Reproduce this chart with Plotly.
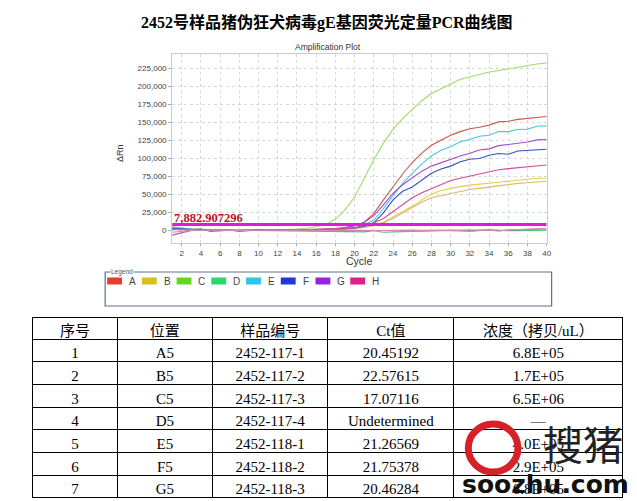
import plotly.graph_objects as go

W, H = 637, 501

# ---------------- data ----------------
cycles = list(range(1, 41))

series_names = ["A", "B", "B2", "C", "D", "E", "F", "G", "H", "NTC1", "NTC2"]
A = [3000,1500,500,0,-500,-200,-600,-300,0,-200,
     100,-100,-300,0,200,500,1000,2000,3500,6000,
     11000,23000,42000,60000,78000,94000,107000,118000,125000,132000,
     137000,141000,143000,146000,150500,151500,154000,155000,156000,158000]
B = [5000,3000,1200,300,-300,-800,-400,-200,-600,-300,
     0,-400,-200,-500,-300,0,300,800,1500,2500,
     4000,6500,11000,18500,26000,33000,42000,50000,55000,58000,
     60500,62500,63500,65500,66500,68000,69500,70500,72000,72500]
B2 = [4000,2500,1000,0,-700,-500,-200,-1000,-400,0,
      -300,-600,-500,-200,-400,-100,200,600,1200,2000,
      3500,6000,10000,16000,24000,31000,39000,45000,48000,51000,
      54000,56500,58000,60000,61500,63500,65000,65800,67000,68000]
C = [4500,2500,1000,200,-800,-300,0,-500,200,0,
     300,500,800,1500,2500,4500,8000,15000,28000,46000,
     72000,98000,121000,140000,155000,168000,180000,190000,197000,204000,
     210000,213000,217000,220000,222000,224500,226000,229500,231000,232500]
D = [2000,1500,800,300,-200,-500,-1000,-700,-300,-500,
     -200,-400,-800,-600,-1000,-1200,-1500,-1200,-1800,-1500,
     -2500,-1000,-3000,-2500,-2000,-1500,-2000,-1500,-1000,-800,
     -1000,-1500,0,-500,-1000,-1000,-800,-500,-300,-200]
E = [3500,2000,700,1000,-1000,-500,-300,-800,-200,-600,
     -300,0,-200,-400,0,300,600,1200,2000,3500,
     7000,14000,30000,48000,65000,79000,92000,103000,111000,116000,
     123000,126000,130500,132000,137000,137000,140000,140500,144500,145000]
F = [2500,1500,800,1500,-1500,-800,-300,-1500,-500,200,
     -200,-500,0,-300,-100,200,500,1000,1800,3000,
     5000,10000,24000,42000,54000,60000,69000,79000,85000,89000,
     95000,98500,99500,104000,106500,105500,110000,111000,111000,112500]
G = [1500,1000,500,0,-300,-600,-200,-400,-800,-300,
     0,-200,-100,-300,0,300,800,1500,3500,6000,
     11000,20000,35000,51000,63000,73000,82000,89000,94000,98000,
     103000,107000,111500,113000,117500,119000,120500,122500,125500,126000]
Hh = [-7000,-3500,-500,500,0,-400,-200,-600,-300,0,
      -200,-400,-300,0,200,500,800,1200,2000,3000,
      6000,10000,16000,26000,36000,45000,52000,58000,64000,69000,
      72000,75000,79000,81000,84000,85500,87000,88000,90000,90500]
NTC1 = [1000,500,0,-300,-500,-300,-800,-600,-200,-500,
        -300,-600,-400,-200,-500,-300,-600,-800,-500,-1000,
        -800,-600,-400,-800,-500,-300,-800,-600,-200,-500,
        200,0,-500,500,0,-200,-300,800,1000,1500]
NTC2 = [-3000,-1500,-500,0,-300,-200,0,-400,-200,-100,
        -300,-100,0,-200,-400,-300,-500,-200,-600,-300,
        -500,-800,-300,-600,-400,-200,-500,-300,0,-200,
        -600,-2000,-800,0,-1500,500,800,1500,2000,2500]
series_values = [A, B, B2, C, D, E, F, G, Hh, NTC1, NTC2]
series_colors = ["#c85a4a", "#e6cc50", "#d4bc72", "#9edb6c", "#4fc47a", "#4cc8da",
                 "#3450c0", "#a24ad2", "#d84a9a", "#8a8a8a", "#d88ab0"]

THRESHOLD = 7882.907296
x_ticks = list(range(2, 41, 2))
y_ticks = list(range(0, 225001, 25000))

legend_labels = ["A", "B", "C", "D", "E", "F", "G", "H"]
legend_colors = ["#e2402a", "#d6c022", "#66d626", "#2ed66c", "#2cc6e6", "#2238d6", "#9a22e0", "#e0208a"]

table_header = ["序号", "位置", "样品编号", "Ct值", "浓度（拷贝/uL）"]
col_no = ["1", "2", "3", "4", "5", "6", "7"]
col_pos = ["A5", "B5", "C5", "D5", "E5", "F5", "G5"]
col_id = ["2452-117-1", "2452-117-2", "2452-117-3", "2452-117-4",
          "2452-118-1", "2452-118-2", "2452-118-3"]
col_ct = ["20.45192", "22.57615", "17.07116", "Undetermined",
          "21.26569", "21.75378", "20.46284"]
col_conc = ["6.8E+05", "1.7E+05", "6.5E+06", "—", "4.0E+05", "2.9E+05", "6.8E+05"]

# ---------------- helpers ----------------
def px(x):
    return x / W

def py(y):
    return 1 - y / H

SERIF = "Liberation Serif, Noto Sans CJK SC, serif"
SANS = "Liberation Sans, Arial, sans-serif"

fig = go.Figure()

for name, vals, col in zip(series_names, series_values, series_colors):
    fig.add_trace(go.Scatter(x=cycles, y=vals, mode="lines", name=name,
                             line=dict(color=col, width=1.1), showlegend=False,
                             hoverinfo="skip"))

fig.add_trace(go.Scatter(x=[cycles[0], cycles[-1]], y=[THRESHOLD, THRESHOLD], mode="lines",
                         line=dict(color="#e01ad8", width=3), showlegend=False,
                         hoverinfo="skip"))

fig.add_trace(go.Table(
    domain=dict(x=[px(33), px(628)], y=[0, py(317)]),
    columnwidth=[85, 96, 116, 127, 170],
    header=dict(values=table_header, height=22, align="center",
                line=dict(color="black", width=1), fill=dict(color="white"),
                font=dict(family=SERIF, size=15, color="black")),
    cells=dict(values=[col_no, col_pos, col_id, col_ct, col_conc], height=22.7,
               align="center", line=dict(color="black", width=1),
               fill=dict(color="white"),
               font=dict(family=SERIF, size=15, color="black")),
))

fig.update_layout(
    width=W, height=H, margin=dict(l=0, r=0, t=0, b=0),
    paper_bgcolor="white", plot_bgcolor="white",
    xaxis=dict(domain=[px(173.5), px(551)], range=[1, 40], tickvals=x_ticks,
               showgrid=True, gridcolor="#d8d8d8", griddash="dot", gridwidth=1,
               showline=True, linecolor="#cccccc", mirror=True, zeroline=False,
               ticks="outside", ticklen=2, tickcolor="#aaaaaa",
               tickfont=dict(family=SANS, size=8, color="#444")),
    yaxis=dict(domain=[py(243), py(54)], range=[-18000, 245000], tickvals=y_ticks,
               tickformat=",", showgrid=True, gridcolor="#d8d8d8", griddash="dot",
               gridwidth=1, showline=True, linecolor="#cccccc", mirror=True,
               zeroline=False, ticks="outside", ticklen=3, tickcolor="#aaaaaa",
               tickfont=dict(family=SANS, size=8, color="#444")),
    showlegend=False,
)

def note(x, y, text, font, **kw):
    d = dict(x=px(x), y=py(y), xref="paper", yref="paper", showarrow=False,
             xanchor="center", yanchor="middle", text=text, font=font)
    d.update(kw)
    return d

ann = []
ann.append(note(330, 23, "<b>2452号样品猪伪狂犬病毒gE基因荧光定量PCR曲线图</b>",
                dict(family=SERIF, size=16, color="black")))
ann.append(note(331, 47.5, "Amplification Plot", dict(family=SANS, size=8.5, color="#333")))
ann.append(note(362, 261, "Cycle", dict(family=SANS, size=10.5, color="#333")))
ann.append(note(121, 153, "ΔRn", dict(family=SANS, size=9, color="#333"), textangle=-90))
ann.append(dict(x=1, y=THRESHOLD, xref="x", yref="y", showarrow=False,
                xanchor="left", yanchor="bottom", xshift=0, yshift=-3,
                text="<b>7,882.907296</b>",
                font=dict(family=SERIF, size=12.5, color="#c4101c")))

# legend box
shapes = []
shapes.append(dict(type="rect", xref="paper", yref="paper", x0=px(106), x1=px(556),
                   y0=py(306), y1=py(272), line=dict(color="#5c7286", width=1.2)))
ann.append(note(111, 272, "Legend", dict(family=SANS, size=6.5, color="#3a5a86"),
                xanchor="left", bgcolor="white", borderpad=0))
for i, (lab, col) in enumerate(zip(legend_labels, legend_colors)):
    x0 = 108 + i * 35.0
    shapes.append(dict(type="rect", xref="paper", yref="paper", x0=px(x0), x1=px(x0 + 15),
                       y0=py(284.5), y1=py(277.5), line=dict(width=0), fillcolor=col))
    ann.append(note(x0 + 20, 281, lab, dict(family=SANS, size=10, color="#444"),
                    xanchor="left"))

# watermark
shapes.append(dict(type="circle", xref="paper", yref="paper", x0=px(472), x1=px(522),
                   y0=py(472), y1=py(424), line=dict(color="#d8202a", width=7)))
ann.append(note(588, 443, "搜猪", dict(family="Noto Sans CJK SC", size=40, color="#222")))
ann.append(note(550, 484, "<b>soozhu.com</b>", dict(family="DejaVu Sans", size=25, color="#111")))

fig.update_layout(annotations=ann, shapes=shapes)
fig.write_html("out.html", config={"displayModeBar": False},
               post_script="document.body.style.margin='0px';document.body.style.overflow='hidden';")
